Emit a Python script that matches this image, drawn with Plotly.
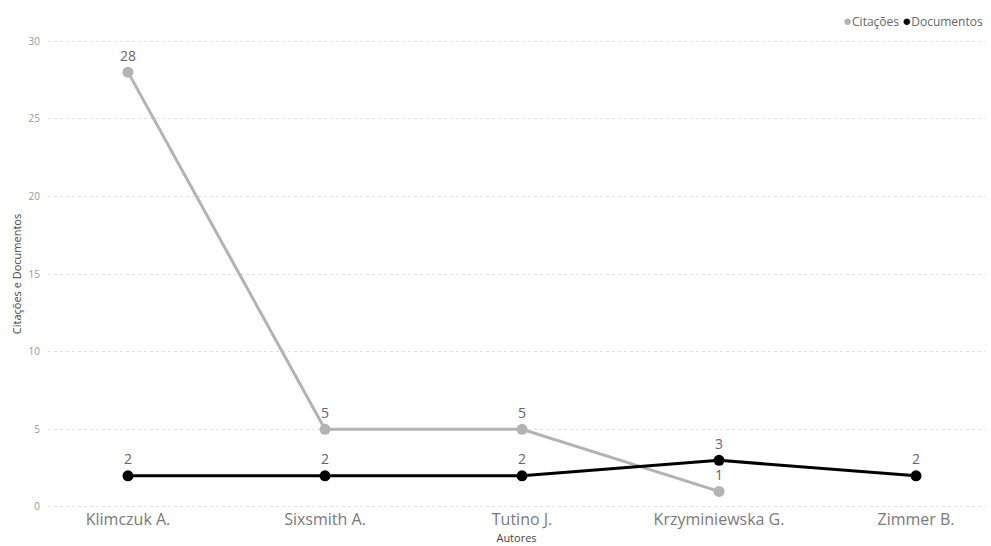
import plotly.graph_objects as go

autores = ["Klimczuk A.", "Sixsmith A.", "Tutino J.", "Krzyminiewska G.", "Zimmer B."]
citacoes = [28, 5, 5, 1, None]
documentos = [2, 2, 2, 3, 2]
y_ticks = [0, 5, 10, 15, 20, 25, 30]
series = [("Citações", "#b3b3b3"), ("Documentos", "#000000")]

FONT = "Open Sans, Segoe UI, sans-serif"
LABEL = "#666666"

fig = go.Figure()

for (nome, cor), valores in zip(series, [citacoes, documentos]):
    fig.add_trace(go.Scatter(
        x=autores, y=valores, name=nome,
        mode="lines+markers+text",
        line=dict(color=cor, width=3),
        marker=dict(color=cor, size=11),
        text=[str(v) if v is not None else "" for v in valores],
        textposition="top center",
        textfont=dict(family=FONT, size=14, color=LABEL),
        cliponaxis=False, showlegend=False,
    ))

# compact legend: coloured dot followed by the series name
legenda = "".join(
    f"<span style='color:{cor}; font-size:15px'>●</span>{nome} " for nome, cor in series
).strip()
fig.add_annotation(
    text=legenda, xref="paper", yref="paper",
    x=1.0, xanchor="right", y=1.043, yanchor="middle",
    showarrow=False, font=dict(family=FONT, size=12, color="#666666"),
)

fig.update_layout(
    width=991, height=546,
    margin=dict(l=48, r=6, t=40, b=38, autoexpand=False),
    paper_bgcolor="white", plot_bgcolor="white",
    font=dict(family=FONT, color=LABEL),
    showlegend=False,
    xaxis=dict(
        type="category",
        range=[-0.406, 4.35],
        showgrid=False, zeroline=False, showline=False, automargin=False,
        tickfont=dict(family=FONT, size=16, color="#7a7a7a"),
        ticks="", ticklen=0,
        title=dict(text="Autores", font=dict(family=FONT, size=11, color="#444444"), standoff=4),
    ),
    yaxis=dict(
        range=[-0.07, 30.07],
        tickvals=y_ticks,
        showgrid=True, gridcolor="#e0e0e0", griddash="dot", gridwidth=1,
        zeroline=False, showline=False, automargin=False,
        tickfont=dict(family=FONT, size=10, color="#999999"),
        ticks="outside", ticklen=5, tickcolor="rgba(0,0,0,0)",
        title=dict(text="Citações e Documentos", font=dict(family=FONT, size=11, color="#444444"), standoff=4),
    ),
)

fig.write_html("out.html")
